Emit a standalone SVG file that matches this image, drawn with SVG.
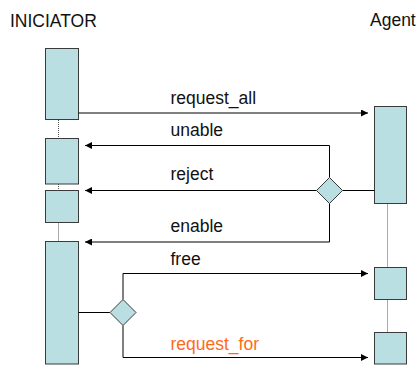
<svg xmlns="http://www.w3.org/2000/svg" width="418" height="365" viewBox="0 0 418 365">
<style>
.box{fill:#b9dfe2;stroke:#3a3a3a;stroke-width:1}
.life{stroke:#555;stroke-width:1;stroke-dasharray:1,1;fill:none}
.ln{stroke:#000;stroke-width:1;fill:none}
.lbl{font-family:"Liberation Sans",Arial,sans-serif;font-size:17.5px;fill:#111}
.orange{fill:#ff6a1a}
</style>
<defs>
<marker id="ah" viewBox="0 0 10 10" refX="10" refY="5" markerWidth="7" markerHeight="7" markerUnits="userSpaceOnUse" orient="auto">
<path d="M0,0 L10,5 L0,10 z" fill="#000"/>
</marker>
</defs>
<rect width="418" height="365" fill="#fff"/>
<g id="headers">
<text class="lbl" x="10" y="26.5">INICIATOR</text>
<text class="lbl" x="370" y="26">Agent</text>
</g>
<g id="lifelines">
<line class="life" x1="58.5" y1="120" x2="58.5" y2="138.5"/>
<line class="life" x1="58.5" y1="184" x2="58.5" y2="190.5"/>
<line class="life" x1="58.5" y1="222.5" x2="58.5" y2="241.5"/>
<line class="life" x1="387.5" y1="203.5" x2="387.5" y2="267.5"/>
<line class="life" x1="387.5" y1="299.5" x2="387.5" y2="332.5"/>
</g>
<g id="initiator-act1"><rect class="box" x="45.5" y="48.5" width="33" height="71"/></g>
<g id="initiator-act2"><rect class="box" x="45.5" y="138.5" width="33" height="45.5"/></g>
<g id="initiator-act3"><rect class="box" x="45.5" y="190.5" width="33" height="32"/></g>
<g id="initiator-act4"><rect class="box" x="45.5" y="241.5" width="33" height="122.5"/></g>
<g id="agent-act1"><rect class="box" x="374.5" y="106.5" width="32" height="97"/></g>
<g id="agent-act2"><rect class="box" x="374.5" y="267.5" width="32" height="32"/></g>
<g id="agent-act3"><rect class="box" x="374.5" y="332.5" width="32" height="31.5"/></g>
<g id="connectors">
<line class="ln" x1="78.5" y1="113" x2="368" y2="113" marker-end="url(#ah)"/>
<polyline class="ln" points="329.5,177.5 329.5,145.5 85,145.5" marker-end="url(#ah)"/>
<line class="ln" x1="316.5" y1="190.5" x2="85" y2="190.5" marker-end="url(#ah)"/>
<line class="ln" x1="342.5" y1="190.5" x2="374.5" y2="190.5"/>
<polyline class="ln" points="329.5,203.5 329.5,242 85,242" marker-end="url(#ah)"/>
<line class="ln" x1="78.5" y1="312.5" x2="110" y2="312.5"/>
<polyline class="ln" points="123,299.5 123,273.5 368,273.5" marker-end="url(#ah)"/>
<polyline class="ln" points="123,325.5 123,357.5 368,357.5" marker-end="url(#ah)"/>
</g>
<g id="decision1"><polygon class="box" points="329.5,177.5 342.5,190.5 329.5,203.5 316.5,190.5"/></g>
<g id="decision2"><polygon class="box" points="123,299.5 136,312.5 123,325.5 110,312.5"/></g>
<g id="labels">
<text class="lbl" x="170.5" y="103.5">request_all</text>
<text class="lbl" x="170.5" y="136">unable</text>
<text class="lbl" x="170.5" y="180">reject</text>
<text class="lbl" x="170.5" y="231.5">enable</text>
<text class="lbl" x="170.5" y="265">free</text>
<text class="lbl orange" x="170.5" y="349.5">request_for</text>
</g>
</svg>
